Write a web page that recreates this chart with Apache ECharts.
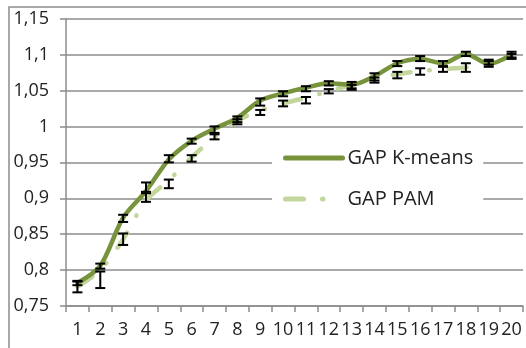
<!DOCTYPE html>
<html>
<head>
<meta charset="utf-8">
<script src="https://cdn.jsdelivr.net/npm/echarts@6/dist/echarts.min.js"></script>
<style>html,body{margin:0;padding:0;background:#fff;}#c{width:526px;height:348px;}</style>
</head>
<body>
<div id="c"></div>
<script>
const categories = ['1','2','3','4','5','6','7','8','9','10','11','12','13','14','15','16','17','18','19','20'];
const kmeans = [0.782, 0.806, 0.873, 0.910, 0.954, 0.980, 0.997, 1.012, 1.036, 1.046, 1.054, 1.060, 1.058, 1.070, 1.088, 1.094, 1.088, 1.101, 1.087, 1.100];
const pam    = [0.777, 0.800, 0.843, 0.897, 0.925, 0.957, 0.985, 1.008, 1.022, 1.032, 1.040, 1.049, 1.058, 1.067, 1.073, 1.077, 1.080, 1.082, 1.090, 1.097];
const kmeansLow  = [0.779, 0.802, 0.867, 0.909, 0.950, 0.976, 0.991, 1.006, 1.029, 1.042, 1.049, 1.057, 1.053, 1.064, 1.084, 1.091, 1.084, 1.098, 1.083, 1.096];
const kmeansHigh = [0.785, 0.809, 0.877, 0.922, 0.960, 0.983, 1.000, 1.014, 1.039, 1.049, 1.056, 1.063, 1.062, 1.074, 1.091, 1.098, 1.091, 1.104, 1.091, 1.104];
const pamLow  = [0.769, 0.775, 0.835, 0.895, 0.914, 0.951, 0.982, 1.003, 1.016, 1.028, 1.032, 1.046, 1.051, 1.061, 1.067, 1.072, 1.076, 1.076, 1.086, 1.094];
const pamHigh = [0.784, 0.798, 0.851, 0.907, 0.926, 0.960, 0.989, 1.010, 1.023, 1.036, 1.041, 1.052, 1.058, 1.068, 1.076, 1.081, 1.083, 1.088, 1.093, 1.101];
const yMin = 0.75, yMax = 1.15, yStep = 0.05;

const FONT = '"Open Sans", sans-serif';
const GRID = '#8c8c8c';
const TXT = '#222';
const C_K = '#77933c', C_P = '#c3d69b';
const PAM_DASH = [18, 19, 0.5, 19];
const PAM_DASH_LEGEND = [18, 19, 0.5, 40];

function errData(lo, hi) { return categories.map((c, i) => [i, lo[i], hi[i]]); }
function renderErr(params, api) {
  const x = api.value(0);
  const lo = api.coord([x, api.value(1)]);
  const hi = api.coord([x, api.value(2)]);
  const hw = 5;
  const st = { stroke: '#000', lineWidth: 2 };
  return { type: 'group', children: [
    { type: 'line', shape: { x1: lo[0], y1: lo[1], x2: hi[0], y2: hi[1] }, style: st },
    { type: 'line', shape: { x1: lo[0] - hw, y1: lo[1], x2: lo[0] + hw, y2: lo[1] }, style: st },
    { type: 'line', shape: { x1: hi[0] - hw, y1: hi[1], x2: hi[0] + hw, y2: hi[1] }, style: st }
  ]};
}

const chart = echarts.init(document.getElementById('c'), null, { renderer: 'canvas' });
chart.setOption({
  animation: false,
  backgroundColor: '#fff',
  textStyle: { fontFamily: FONT },
  graphic: [{ type: 'rect', z: -1, shape: { x: 9, y: 7, width: 700, height: 500 }, style: { fill: null, stroke: GRID, lineWidth: 1.5 } }],
  grid: { left: 66, right: 3, top: 18.7, bottom: 42, containLabel: false },
  legend: {
    data: [
      { name: 'GAP K-means', lineStyle: { color: C_K, width: 5, type: 'solid', cap: 'round' } },
      { name: 'GAP PAM', lineStyle: { color: C_P, width: 5, type: PAM_DASH_LEGEND, cap: 'round' } }
    ],
    orient: 'vertical',
    left: 272, top: 140,
    padding: [8, 10, 8, 11],
    backgroundColor: '#fff',
    itemWidth: 57, itemHeight: 20, itemGap: 21, itemTextGap: 7,
    itemStyle: { opacity: 0 },
    lineStyle: { width: 5, cap: 'round' },
    textStyle: { fontFamily: FONT, fontSize: 20, color: TXT, lineHeight: 20 }
  },
  xAxis: {
    type: 'category', data: categories, boundaryGap: true,
    axisLine: { show: true, lineStyle: { color: GRID, width: 1.5 } },
    axisTick: { show: true, length: 6, lineStyle: { color: GRID, width: 1.5 } },
    axisLabel: { interval: 0, margin: 15, fontFamily: FONT, fontSize: 18, color: TXT },
    splitLine: { show: false }
  },
  yAxis: {
    type: 'value', min: yMin, max: yMax, interval: yStep,
    axisLine: { show: true, lineStyle: { color: GRID, width: 1.5 } },
    axisTick: { show: true, length: 6, lineStyle: { color: GRID, width: 1.5 } },
    axisLabel: { margin: 17, fontFamily: FONT, fontSize: 18, color: TXT,
      formatter: v => parseFloat(v.toFixed(2)).toString().replace('.', ',') },
    splitLine: { show: true, lineStyle: { color: GRID, width: 1.5 } }
  },
  series: [
    { name: 'GAP K-means', type: 'line', data: kmeans, smooth: 0.3, symbol: 'none', z: 3,
      color: C_K, lineStyle: { color: C_K, width: 4.5, cap: 'round', join: 'round' } },
    { name: 'GAP PAM', type: 'line', data: pam, smooth: 0.3, symbol: 'none', z: 2,
      color: C_P, lineStyle: { color: C_P, width: 4.5, type: PAM_DASH, cap: 'round', join: 'round' } },
    { name: 'errK', type: 'custom', data: errData(kmeansLow, kmeansHigh), renderItem: renderErr, encode: { x: 0, y: [1, 2] }, z: 5 },
    { name: 'errP', type: 'custom', data: errData(pamLow, pamHigh), renderItem: renderErr, encode: { x: 0, y: [1, 2] }, z: 5 }
  ]
});
</script>
</body>
</html>
